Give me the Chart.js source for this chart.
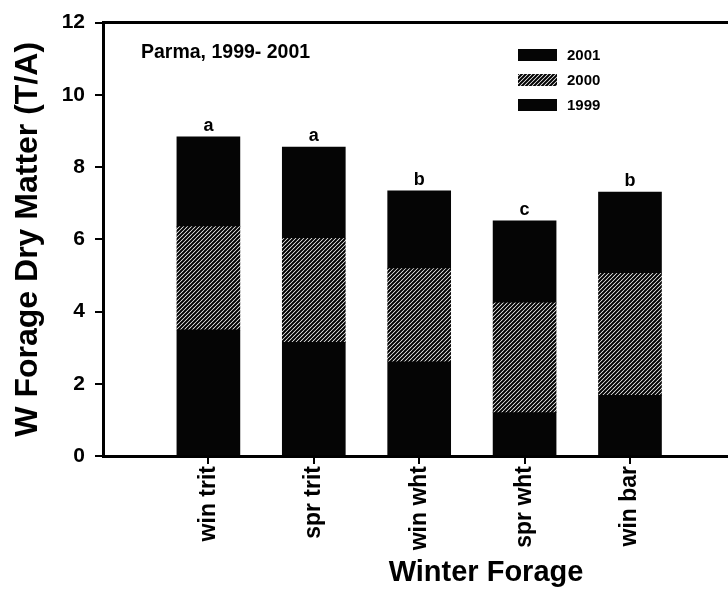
<!DOCTYPE html>
<html>
<head>
<meta charset="utf-8">
<script src="https://cdn.jsdelivr.net/npm/chart.js@4/dist/chart.umd.min.js"></script>
<style>
  html, body { margin: 0; padding: 0; background: #fff; }
  canvas { display: block; }
</style>
</head>
<body>
<canvas id="c" width="728" height="598"></canvas>
<script>
// ---- data ----
const categories = ['win trit', 'spr trit', 'win wht', 'spr wht', 'win bar'];
const y1999 = [3.49, 3.15, 2.61, 1.20, 1.68];
const y2000 = [2.86, 2.88, 2.58, 3.04, 3.38];
const y2001 = [2.49, 2.52, 2.15, 2.27, 2.25];
const letters = ['a', 'a', 'b', 'c', 'b'];
const seriesNames = ['1999', '2000', '2001'];
const yTicks = [0, 2, 4, 6, 8, 10, 12];
const panelLabel = 'Parma, 1999- 2001';
const xTitle = 'Winter Forage';
const yTitle = 'W Forage Dry Matter (T/A)';

const FONT = "'Liberation Sans', Arial, Helvetica, sans-serif";
const canvas = document.getElementById('c');
const ctx = canvas.getContext('2d');

function hatchPattern() {
  const t = document.createElement('canvas');
  t.width = 4; t.height = 4;
  const g = t.getContext('2d');
  g.fillStyle = '#ffffff';
  g.fillRect(0, 0, 4, 4);
  g.strokeStyle = '#000000';
  g.lineWidth = 2;
  g.beginPath();
  g.moveTo(0, 4); g.lineTo(4, 0);
  g.moveTo(-1, 1); g.lineTo(1, -1);
  g.moveTo(3, 5); g.lineTo(5, 3);
  g.stroke();
  return ctx.createPattern(t, 'repeat');
}

const toPts = arr => arr.map((v, i) => ({ x: i + 1, y: v }));
const fills = ['#050505', hatchPattern(), '#050505'];
const seriesData = [y1999, y2000, y2001];

const datasets = seriesNames.map((name, k) => ({
  label: name,
  data: toPts(seriesData[k]),
  backgroundColor: fills[k],
  borderWidth: 0,
  barThickness: 63
}));

const annotate = {
  id: 'annotate',
  afterDraw(chart) {
    const c = chart.ctx;
    c.save();
    // significance letters above the stacks
    const topMeta = chart.getDatasetMeta(chart.data.datasets.length - 1);
    c.fillStyle = '#000';
    c.font = 'bold 18px ' + FONT;
    c.textAlign = 'center';
    c.textBaseline = 'alphabetic';
    topMeta.data.forEach((bar, i) => {
      c.fillText(letters[i], bar.x, bar.y - 6);
    });
    // panel label
    c.textAlign = 'left';
    c.textBaseline = 'middle';
    c.font = 'bold 19.5px ' + FONT;
    c.fillText(panelLabel, 141, 53);
    // legend (reverse order, as in the figure)
    c.font = 'bold 15px ' + FONT;
    const rows = [55, 80, 105];
    const ds = chart.data.datasets.slice().reverse();
    ds.forEach((d, r) => {
      c.fillStyle = d.backgroundColor;
      c.fillRect(518, rows[r] - 6, 39, 12);
      c.fillStyle = '#000';
      c.fillText(d.label, 567, rows[r] + 1);
    });
    // x axis title
    c.textAlign = 'center';
    c.font = 'bold 29px ' + FONT;
    c.fillText(xTitle, 486, 573);
    c.restore();
  }
};

new Chart(ctx, {
  type: 'bar',
  data: { datasets },
  options: {
    responsive: false,
    animation: false,
    devicePixelRatio: 1,
    layout: { padding: { top: 16, left: 0, right: 0, bottom: 0 } },
    plugins: { legend: { display: false }, tooltip: { enabled: false } },
    scales: {
      x: {
        type: 'linear',
        stacked: true,
        min: 0,
        max: 5.93,
        offset: false,
        afterBuildTicks: s => { s.ticks = categories.map((_, i) => ({ value: i + 1 })); },
        afterFit: s => { s.height = 142; },
        grid: { display: true, offset: false, drawOnChartArea: false, drawTicks: true, tickLength: 8, color: '#000', lineWidth: 2 },
        border: { display: true, color: '#000', width: 3 },
        ticks: {
          autoSkip: false,
          minRotation: 90,
          maxRotation: 90,
          padding: 2,
          color: '#000',
          font: { family: FONT, size: 23, weight: 'bold' },
          callback: v => categories[v - 1] ?? ''
        }
      },
      x2: {
        type: 'linear',
        axis: 'x',
        position: 'top',
        min: 0,
        max: 1,
        grid: { display: false, drawTicks: false },
        ticks: { display: false },
        border: { display: true, color: '#000', width: 3 }
      },
      y: {
        stacked: true,
        min: 0,
        max: 12,
        afterBuildTicks: s => { s.ticks = yTicks.map(v => ({ value: v })); },
        afterFit: s => { s.width = 103; },
        grid: { display: true, drawOnChartArea: false, drawTicks: true, tickLength: 8, color: '#000', lineWidth: 2 },
        border: { display: true, color: '#000', width: 3 },
        ticks: {
          padding: 10,
          color: '#000',
          font: { family: FONT, size: 21, weight: 'bold' }
        },
        title: {
          display: true,
          text: yTitle,
          color: '#000',
          padding: { top: 9, bottom: 0 },
          font: { family: FONT, size: 32, weight: 'bold', lineHeight: 1.2 }
        }
      }
    }
  },
  plugins: [annotate]
});
</script>
</body>
</html>
